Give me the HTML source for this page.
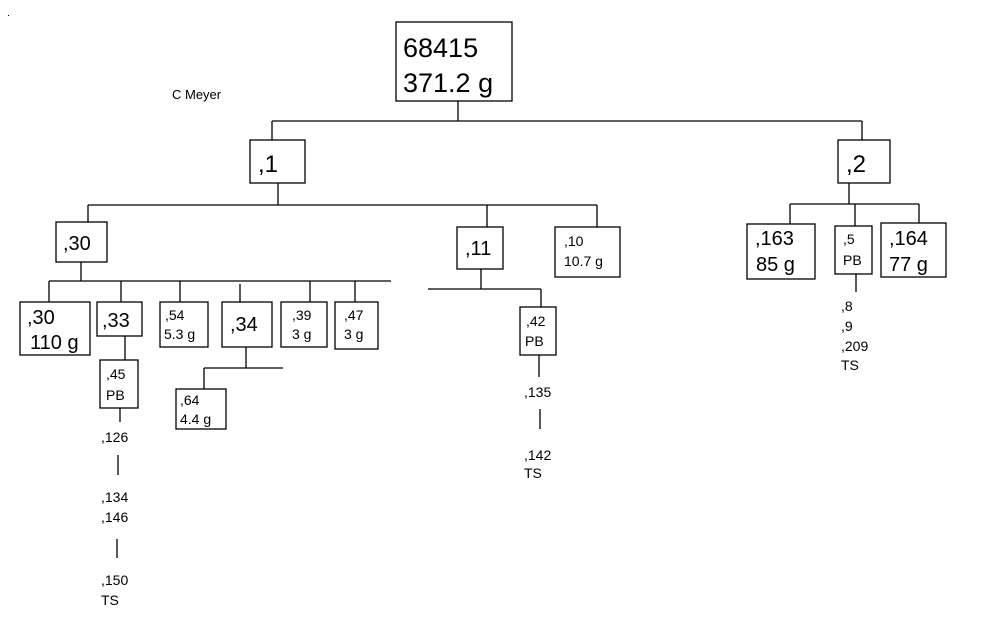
<!DOCTYPE html>
<html><head><meta charset="utf-8"><style>
html,body{margin:0;padding:0;background:#fff;}
svg text{font-family:"Liberation Sans",Arial,sans-serif;fill:#000;}
</style></head><body>
<svg width="982" height="637" viewBox="0 0 982 637" xmlns="http://www.w3.org/2000/svg">
<g stroke="#000" stroke-width="1.3" fill="none">
<rect x="396" y="22" width="116" height="79"/>
<path d="M458 101V121M272 121H862M272 121V140M862 121V140"/>
<rect x="250" y="140" width="55" height="43"/>
<rect x="838" y="140" width="52" height="43"/>
<path d="M278 183V205M88 205H597M88 205V222M487 205V227M597 205V227"/>
<rect x="56" y="222" width="51" height="40"/>
<rect x="457" y="227" width="46" height="42"/>
<rect x="555" y="227" width="65" height="50"/>
<path d="M81 262V281M49 281H391M49 281V302M121 281V302M180 281V302M240 284V302M310 281V302M355 281V302"/>
<rect x="20" y="302" width="70" height="53"/>
<rect x="97" y="302" width="45" height="34"/>
<rect x="160" y="302" width="48" height="45"/>
<rect x="222" y="302" width="50" height="45"/>
<rect x="281" y="302" width="46" height="45"/>
<rect x="335" y="302" width="43" height="47"/>
<path d="M125 336V360"/>
<rect x="100" y="360" width="38" height="48"/>
<path d="M120 408V422M118 455V475M117 539V558"/>
<path d="M246 347V368M204 368H283M204 368V389"/>
<rect x="176" y="389" width="50" height="40"/>
<path d="M481 269V289M428 289H541M541 289V307"/>
<rect x="520" y="307" width="36" height="48"/>
<path d="M539 355V377M540 409V429"/>
<path d="M849 183V204M790 204H919M790 204V224M855 204V226M919 204V223"/>
<rect x="747" y="224" width="68" height="55"/>
<rect x="835" y="226" width="37" height="48"/>
<rect x="881" y="223" width="65" height="54"/>
<path d="M856 274V292"/>
</g>
<rect x="8" y="15" width="1" height="1" fill="#000"/>
<text x="172" y="99" font-size="13">C Meyer</text>
<g font-size="27"><text x="403" y="57">68415</text><text x="403" y="92">371.2 g</text></g>
<g font-size="24"><text x="258" y="172">,1</text><text x="846" y="172">,2</text></g>
<g font-size="20">
<text x="63" y="250">,30</text>
<text x="465" y="255">,11</text>
<text x="27" y="324">,30</text><text x="30" y="349">110 g</text>
<text x="102" y="327">,33</text>
<text x="230" y="331">,34</text>
<text x="755" y="245">,163</text><text x="756" y="271">85 g</text>
<text x="889" y="245">,164</text><text x="889" y="271">77 g</text>
</g>
<g font-size="14">
<text x="564" y="246">,10</text><text x="564" y="266">10.7 g</text>
<text x="165" y="320">,54</text><text x="164" y="339">5.3 g</text>
<text x="292" y="320">,39</text><text x="292" y="339">3 g</text>
<text x="344" y="320">,47</text><text x="344" y="339">3 g</text>
<text x="106" y="379">,45</text><text x="106" y="400">PB</text>
<text x="180" y="405">,64</text><text x="180" y="424">4.4 g</text>
<text x="526" y="326">,42</text><text x="525" y="346">PB</text>
<text x="843" y="244">,5</text><text x="843" y="265">PB</text>
<text x="101" y="442">,126</text>
<text x="101" y="502">,134</text><text x="101" y="522">,146</text>
<text x="101" y="585">,150</text><text x="101" y="605">TS</text>
<text x="524" y="397">,135</text>
<text x="524" y="460">,142</text><text x="524" y="478">TS</text>
<text x="841" y="311">,8</text><text x="841" y="331">,9</text><text x="841" y="351">,209</text><text x="841" y="370">TS</text>
</g>
</svg>
</body></html>
